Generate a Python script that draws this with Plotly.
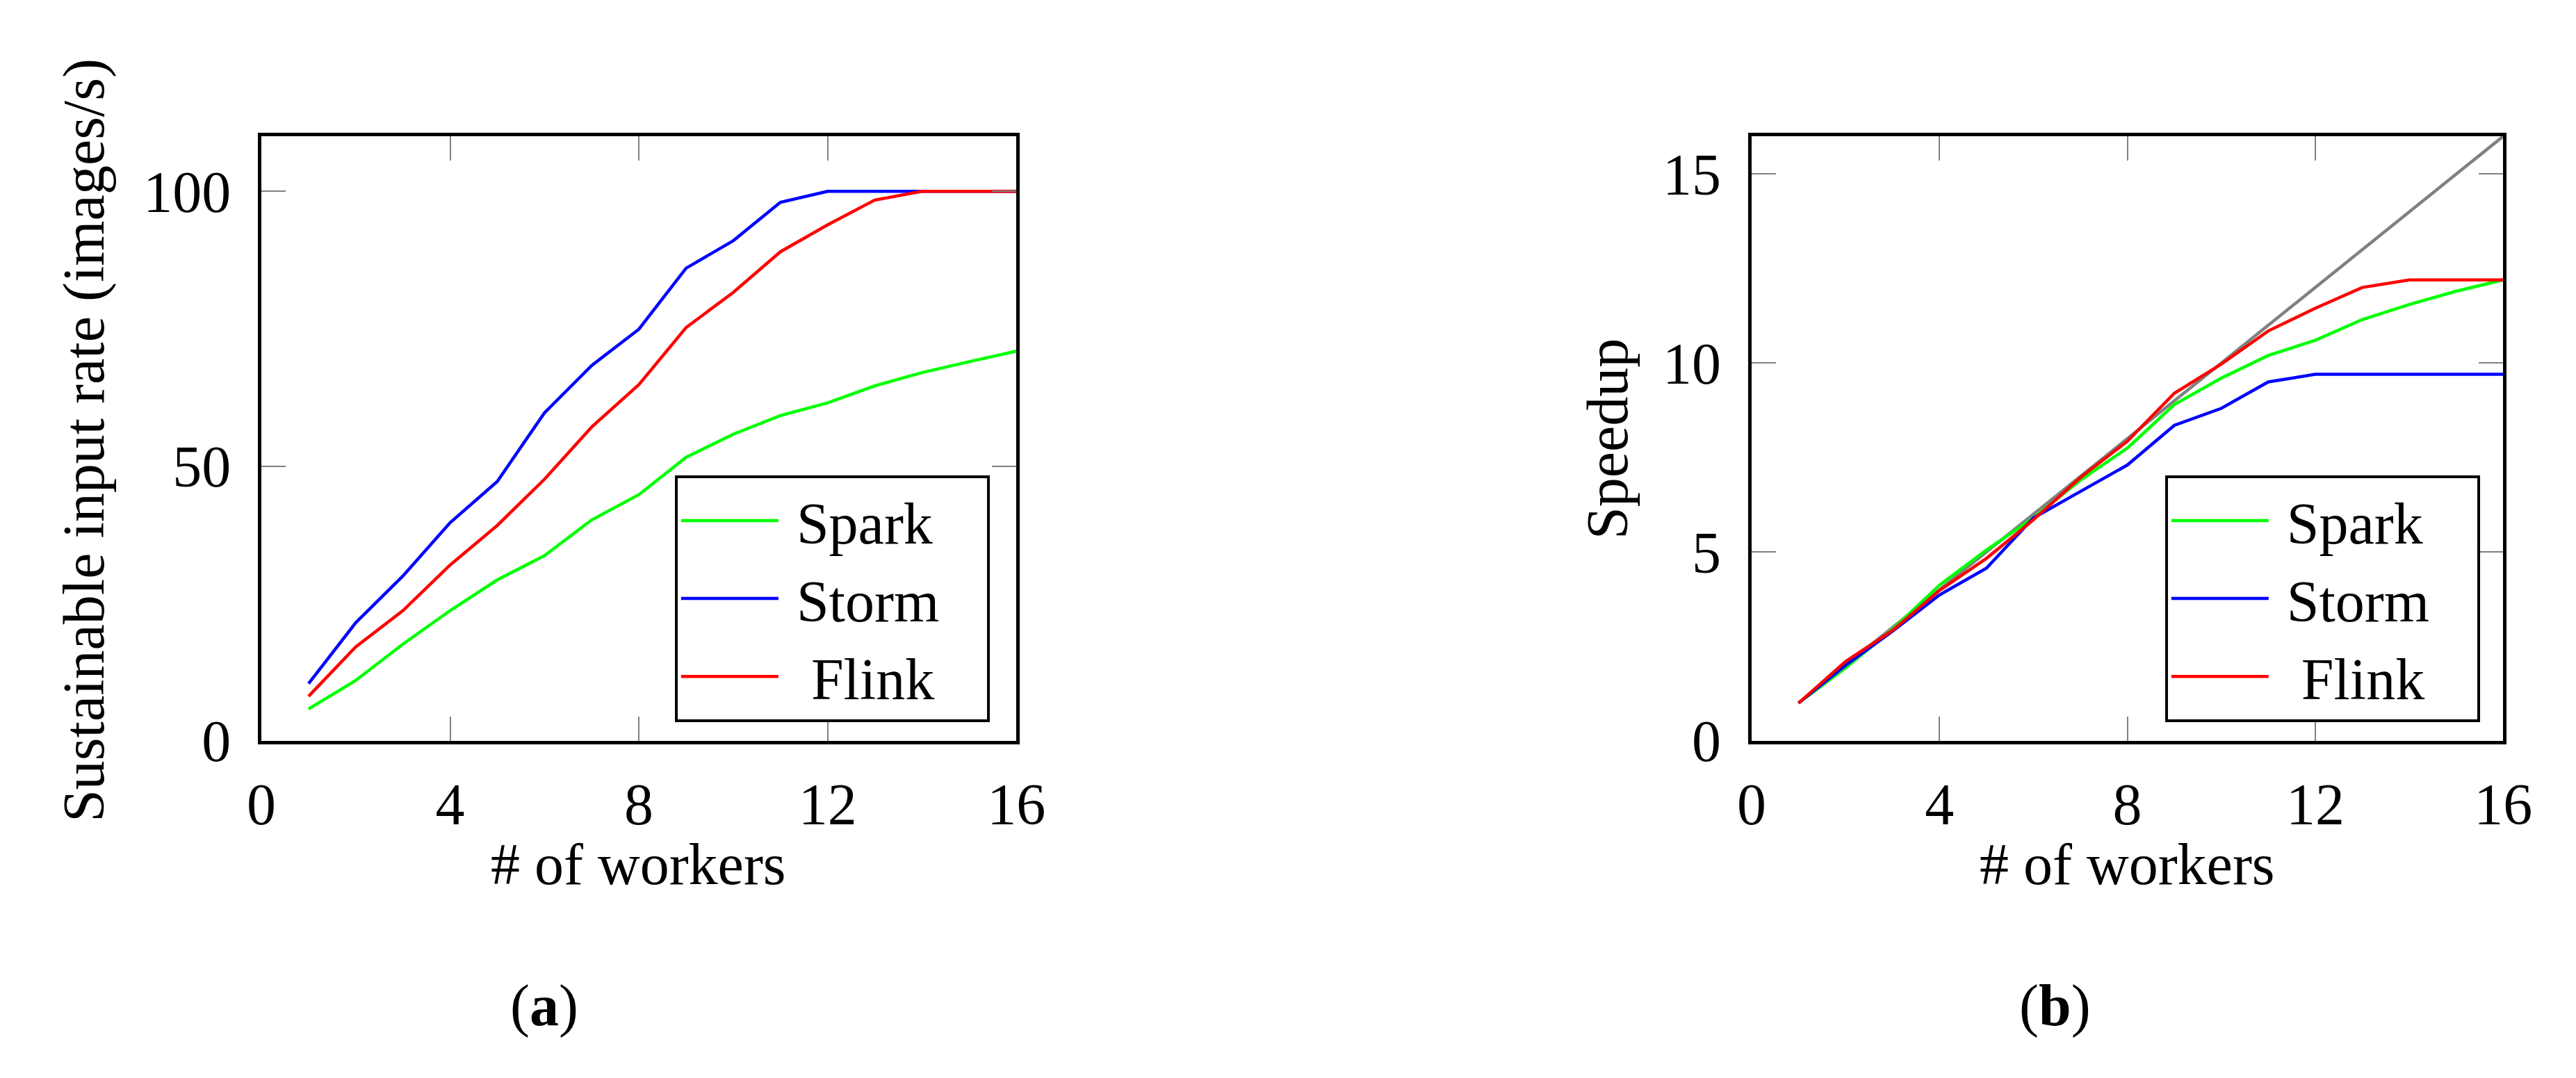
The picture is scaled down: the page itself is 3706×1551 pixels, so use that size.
import plotly.graph_objects as go

workers = [1, 2, 3, 4, 5, 6, 7, 8, 9, 10, 11, 12, 13, 14, 15, 16]

# (a) sustainable input rate, images/s
rate_spark = [5.8, 11.0, 17.6, 23.7, 29.3, 33.7, 40.2, 44.8, 51.6, 55.8, 59.2, 61.5, 64.6, 67.0, 69.0, 70.9]
rate_storm = [10.4, 21.5, 30.0, 39.7, 47.2, 59.7, 68.3, 74.9, 86.0, 91.0, 98.0, 100, 100, 100, 100, 100]
rate_flink = [8.1, 17.1, 23.7, 32.0, 39.2, 47.6, 57.1, 64.8, 75.2, 81.6, 89.0, 93.9, 98.4, 100, 100, 100]

# (b) speedup
speedup_spark = [1, 1.93, 2.95, 4.12, 5.05, 5.9, 6.9, 7.75, 8.9, 9.6, 10.2, 10.6, 11.15, 11.55, 11.9, 12.2]
speedup_storm = [1, 2.0, 2.9, 3.86, 4.57, 5.9, 6.6, 7.3, 8.35, 8.8, 9.5, 9.7, 9.7, 9.7, 9.7, 9.7]
speedup_flink = [1, 2.1, 2.92, 3.98, 4.83, 5.85, 6.97, 7.93, 9.2, 9.97, 10.85, 11.45, 12.0, 12.2, 12.2, 12.2]
speedup_ideal = [1, 2, 3, 4, 5, 6, 7, 8, 9, 10, 11, 12, 13, 14, 15, 16]

x_ticks = [0, 4, 8, 12, 16]
rate_ticks = [0, 50, 100]
speedup_ticks = [0, 5, 10, 15]

FONT = "Liberation Serif"
FS = 84
W, H = 3706, 1551
NB = "\u00a0"
LW = 4.5

colors = {"Spark": "#00ff00", "Storm": "#0000ff", "Flink": "#ff0000"}
# padded legend labels so the box and centring look like the pgfplots legend
labels = {"Spark": NB + "Spark" + NB * 3,
          "Storm": NB + "Storm" + NB * 3,
          "Flink": NB * 2 + "Flink" + NB * 2}

fig = go.Figure()

for name, ys in [("Spark", rate_spark), ("Storm", rate_storm), ("Flink", rate_flink)]:
    fig.add_trace(go.Scatter(x=workers, y=ys, mode="lines", name=labels[name],
                             line=dict(color=colors[name], width=LW),
                             xaxis="x", yaxis="y", legend="legend"))

fig.add_trace(go.Scatter(x=workers, y=speedup_ideal, mode="lines", name="ideal",
                         line=dict(color="#808080", width=LW),
                         xaxis="x2", yaxis="y2", showlegend=False))
for name, ys in [("Spark", speedup_spark), ("Storm", speedup_storm), ("Flink", speedup_flink)]:
    fig.add_trace(go.Scatter(x=workers, y=ys, mode="lines", name=labels[name],
                             line=dict(color=colors[name], width=LW),
                             xaxis="x2", yaxis="y2", legend="legend2"))

ydom = [1 - 1091 / H, 1 - 194 / H]

axis_common = dict(
    showline=True, linecolor="black", linewidth=5, mirror="allticks",
    ticks="inside", ticklen=35, tickwidth=2, tickcolor="#808080",
    showgrid=False, zeroline=False,
    tickfont=dict(family=FONT, size=FS, color="black"),
)

legend_common = dict(
    xanchor="right", y=1 - 1063 / H, yanchor="bottom",
    bgcolor="white", bordercolor="black", borderwidth=4,
    font=dict(family=FONT, size=FS, color="black"), itemwidth=140,
    tracegroupgap=0,
)

fig.update_layout(
    width=W, height=H,
    margin=dict(l=0, r=0, t=0, b=0),
    paper_bgcolor="white", plot_bgcolor="white",
    font=dict(family=FONT, size=FS, color="black"),
    xaxis=dict(domain=[353 / W, 1458 / W], range=[0, 16], tickvals=x_ticks,
               anchor="y", ticklabelstandoff=14, **axis_common),
    yaxis=dict(domain=ydom, range=[0, 110], tickvals=rate_ticks,
               anchor="x", ticklabelstandoff=22, **axis_common),
    xaxis2=dict(domain=[2534 / W, 3634 / W], range=[0, 16], tickvals=x_ticks,
                anchor="y2", ticklabelstandoff=14, **axis_common),
    yaxis2=dict(domain=ydom, range=[0, 16], tickvals=speedup_ticks,
                anchor="x2", ticklabelstandoff=22, **axis_common),
    legend=dict(x=1419 / W, **legend_common),
    legend2=dict(x=3600 / W, **legend_common),
)

annots = [
    dict(text="Sustainable input rate (images/s)", x=94 / W, y=1 - 645 / H, textangle=-90),
    dict(text="Speedup", x=2323 / W, y=1 - 643 / H, textangle=-90),
    dict(text="# of workers", x=905 / W, y=1 - 1274 / H),
    dict(text="# of workers", x=3084 / W, y=1 - 1274 / H),
    dict(text="(<b>a</b>)", x=767 / W, y=1 - 1484 / H),
    dict(text="(<b>b</b>)", x=2978 / W, y=1 - 1484 / H),
]
for a in annots:
    fig.add_annotation(xref="paper", yref="paper", showarrow=False,
                       xanchor="center", yanchor="middle",
                       font=dict(family=FONT, size=FS, color="black"), **a)

fig.write_html("out.html")
